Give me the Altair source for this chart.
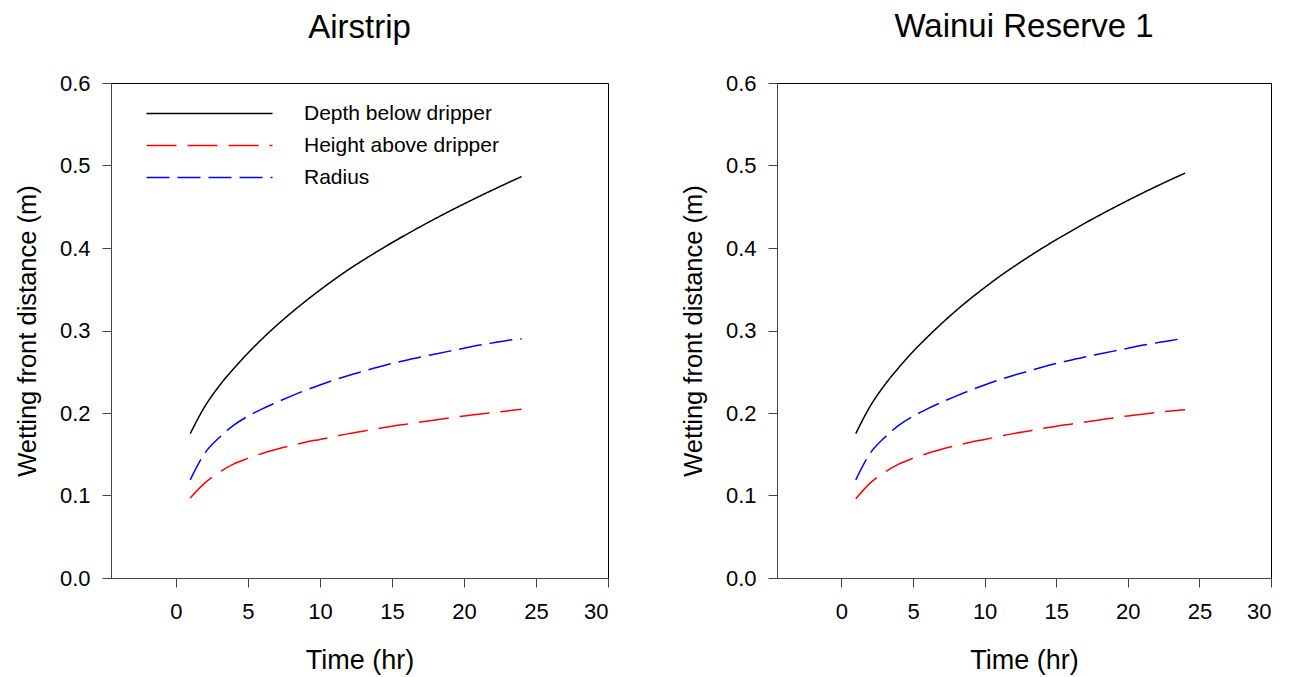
import altair as alt
import pandas as pd

hours = list(range(1, 25))
series_names = ["Depth below dripper", "Height above dripper", "Radius"]

air_depth = [0.1750, 0.2075, 0.2325, 0.2535, 0.2725, 0.2900, 0.3062, 0.3213, 0.3355, 0.3490, 0.3618, 0.3740,
             0.3852, 0.3960, 0.4064, 0.4164, 0.4261, 0.4355, 0.4446, 0.4534, 0.4620, 0.4704, 0.4786, 0.4866]
air_height = [0.097, 0.115, 0.128, 0.138, 0.145, 0.151, 0.156, 0.1605, 0.1645, 0.168, 0.1715, 0.175,
              0.178, 0.181, 0.184, 0.1865, 0.189, 0.1915, 0.194, 0.1965, 0.1985, 0.2005, 0.2025, 0.2045]
air_radius = [0.119, 0.151, 0.170, 0.185, 0.196, 0.205, 0.213, 0.2205, 0.2275, 0.234, 0.240, 0.2455,
              0.2505, 0.2555, 0.260, 0.264, 0.268, 0.2715, 0.275, 0.2785, 0.282, 0.285, 0.288, 0.2900]

wai_depth = [0.1750, 0.2080, 0.2335, 0.2550, 0.2745, 0.2920, 0.3085, 0.3240, 0.3385, 0.3520, 0.3650, 0.3770,
             0.3885, 0.3995, 0.4100, 0.4200, 0.4300, 0.4395, 0.4487, 0.4576, 0.4663, 0.4747, 0.4829, 0.4908]
wai_height = [0.096, 0.115, 0.128, 0.138, 0.145, 0.151, 0.156, 0.1605, 0.1645, 0.168, 0.1715, 0.175,
              0.178, 0.181, 0.184, 0.1865, 0.189, 0.1915, 0.194, 0.1965, 0.1985, 0.2005, 0.2025, 0.2040]
wai_radius = [0.119, 0.151, 0.170, 0.185, 0.196, 0.205, 0.213, 0.2205, 0.2275, 0.234, 0.240, 0.2455,
              0.2505, 0.2555, 0.260, 0.264, 0.268, 0.2715, 0.275, 0.2785, 0.282, 0.285, 0.288, 0.2905]

x_ticks = [0, 5, 10, 15, 20, 25, 30]
y_ticks = [0.0, 0.1, 0.2, 0.3, 0.4, 0.5, 0.6]

FONT = "Liberation Sans"


def make_df(site, depth, height, radius):
    rows = []
    for name, vals in zip(series_names, [depth, height, radius]):
        for t, v in zip(hours, vals):
            rows.append({"site": site, "series": name, "t": t, "v": v})
    return pd.DataFrame(rows)


df_air = make_df("Airstrip", air_depth, air_height, air_radius)
df_wai = make_df("Wainui Reserve 1", wai_depth, wai_height, wai_radius)


def panel(df, title, width, height, show_legend, title_offset):
    if show_legend:
        leg = alt.Legend(
            orient="none", legendX=142, legendY=20, title=None,
            symbolType="M-13,0H1", symbolSize=324, symbolStrokeWidth=1.5,
            labelFontSize=21, labelFont=FONT, labelColor="black", labelLimit=500,
            labelOffset=30, rowPadding=10, padding=0,
        )
    else:
        leg = None
    return alt.Chart(df).mark_line(strokeWidth=1.5, interpolate="monotone").encode(
        x=alt.X("t:Q",
                scale=alt.Scale(domain=[-4.5, 30], nice=False, zero=False),
                axis=alt.Axis(values=x_ticks, title="Time (hr)")),
        y=alt.Y("v:Q",
                scale=alt.Scale(domain=[0, 0.6], nice=False),
                axis=alt.Axis(values=y_ticks, format=".1f", title="Wetting front distance (m)")),
        color=alt.Color("series:N",
                        scale=alt.Scale(domain=series_names, range=["#000000", "#ff0000", "#0000ff"]),
                        legend=leg),
        strokeDash=alt.StrokeDash("series:N",
                                  scale=alt.Scale(domain=series_names, range=[[1, 0], [30, 11], [23, 8]]),
                                  legend=leg),
    ).properties(
        width=width, height=height,
        title=alt.TitleParams(title, fontSize=33, font=FONT, fontWeight="normal",
                              anchor="middle", offset=title_offset, color="black"),
    )


left = panel(df_air, "Airstrip", 497, 495, True, 27)
right = panel(df_wai, "Wainui Reserve 1", 494, 495, False, 28)

chart = alt.hconcat(left, right, spacing=71).resolve_scale(
    color="independent", strokeDash="independent"
).resolve_legend(color="independent", strokeDash="independent").properties(
    padding={"left": 6, "top": 2, "right": 5, "bottom": 5}
).configure_view(
    stroke="#000000", strokeWidth=1
).configure_axis(
    grid=False, labelFont=FONT, titleFont=FONT, labelFontSize=22,
    titleFontWeight="normal", labelColor="black", titleColor="black",
    domainColor="#444444", tickColor="#444444", tickSize=9,
).configure_axisY(
    titlePadding=19, labelPadding=12, titleFontSize=25.5
).configure_axisX(
    titlePadding=25, labelPadding=14, titleFontSize=27
)

chart.save("out.html", embed_options={"renderer": "svg", "actions": False})
